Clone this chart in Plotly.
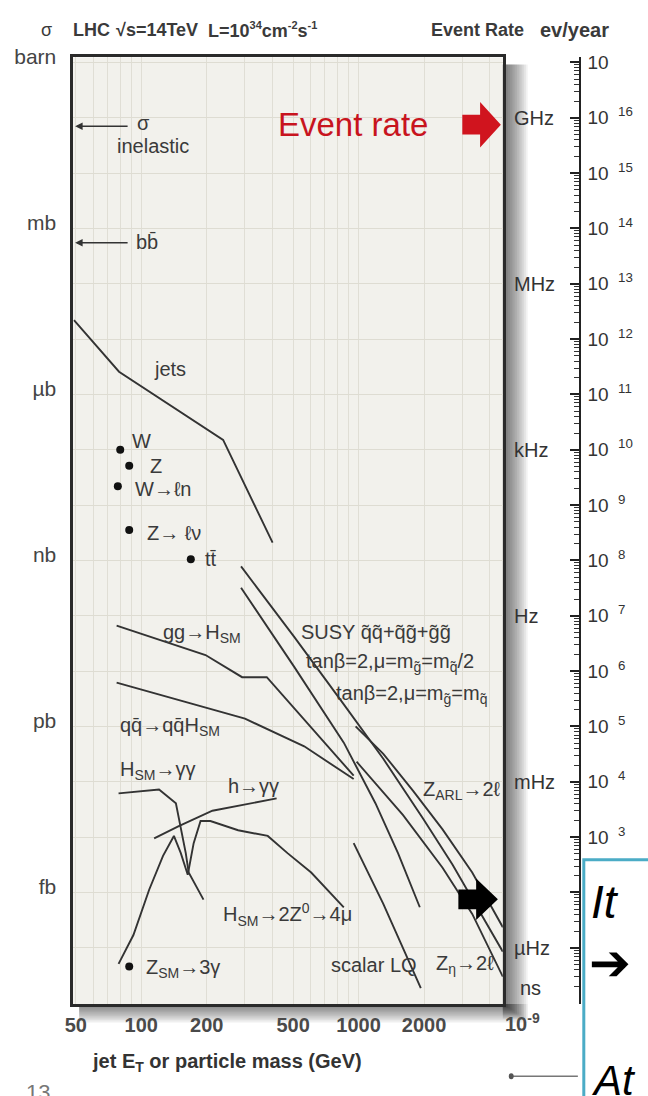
import math
import plotly.graph_objects as go

W, H = 648, 1096

# ---------------- data (mass in GeV, cross section in barn) ----------------
jets_m = [49, 79, 238, 402]
jets_sigma = [2.19e-5, 2.57e-6, 1.51e-7, 2.09e-9]

gg_h_m = [77, 197.5, 291, 378, 949]
gg_h_sigma = [6.61e-11, 1.95e-11, 7.76e-12, 7.76e-12, 1.29e-13]

qq_h_m = [77, 197.5, 300, 562, 949]
qq_h_sigma = [6.17e-12, 2.19e-12, 1.38e-12, 4.37e-13, 1.12e-13]

h_sm_gg_m = [78.6, 120.7, 144.3, 160.2, 165.2, 181.6, 193.3]
h_sm_gg_sigma = [6.17e-14, 7.24e-14, 4.07e-14, 5.13e-15, 2.29e-15, 1.12e-15, 7.41e-16]

h_gg_m = [114.6, 148.8, 212.5, 419.5]
h_gg_sigma = [9.5e-15, 1.58e-14, 3.0e-14, 5.0e-14]

h_4mu_m = [78.6, 92.0, 108.7, 125.9, 141.3, 152.0, 163.6, 174.2, 187.4, 208.0,
           279.0, 381.9, 470.8, 605.1, 854.7]
h_4mu_sigma = [5.13e-17, 1.70e-16, 1.12e-15, 4.57e-15, 1.05e-14, 5.13e-15, 2.09e-15,
               7.76e-15, 1.95e-14, 1.95e-14, 1.33e-14, 1.05e-14, 5.13e-15, 2.29e-15, 5.37e-16]

susy_a_m = [287.8, 506.4, 854.7, 1299, 1975, 2703, 3512, 4609]
susy_a_sigma = [7.8e-10, 4.1e-11, 2.5e-12, 2.6e-13, 2.2e-14, 3.2e-15, 5.4e-16, 8.5e-17]

susy_b_m = [287.8, 506.4, 854.7, 1195, 1520, 1913]
susy_b_sigma = [3.2e-10, 1.18e-11, 5.1e-13, 4.1e-14, 5.1e-15, 5.4e-16]

z_arl_m = [969, 1299, 1778, 2434, 3333, 4609]
z_arl_sigma = [1.0e-12, 3.2e-13, 6.9e-14, 1.38e-14, 2.3e-15, 2.35e-16]

z_eta_m = [979, 1602, 2434, 3333, 4609]
z_eta_sigma = [2.3e-13, 2.5e-14, 2.8e-15, 4.1e-16, 3.0e-17]

lq_m = [949, 1299, 1933]
lq_sigma = [7.8e-15, 6.2e-16, 1.86e-17]

point_names = ["W", "Z", "W→ℓn", "Z→ℓℓ", "tt", "Z_SM→3γ"]
point_m = [80, 88, 78, 88, 169, 88]
point_sigma = [1.0e-7, 5.13e-8, 2.19e-8, 3.55e-9, 1.05e-9, 4.57e-17]

sigma_inel = 0.07
sigma_bb = 5.5e-4

x_ticks = [50, 100, 200, 500, 1000, 2000]
x_ticktext = ["50", "100", "200", "500", "1000", "2000"]
y_ticks = [1, 1e-3, 1e-6, 1e-9, 1e-12, 1e-15]
y_ticktext = ["barn", "mb", "µb", "nb", "pb", "fb"]
rate_exponents = list(range(0, 18))
hz_labels = ["GHz", "MHz", "kHz", "Hz", "mHz", "µHz"]
hz_sigma = [1e-1, 1e-4, 1e-7, 1e-10, 1e-13, 1e-16]
ev_per_year_per_barn = 1e17

# ---------------- geometry ----------------
def px(x, y):
    return x / W, 1 - y / H

X0, X1 = 66, 501
Y0, Y1 = 45, 1003
xr = [math.log10(48.6), math.log10(4609)]
yr = [-17.018, 0.0893]

LINE = "#333333"
TXT = "#3a3a3a"
FONT = "Liberation Sans, Arial, Helvetica, sans-serif"

fig = go.Figure()

curves = [
    (jets_m, jets_sigma), (gg_h_m, gg_h_sigma), (qq_h_m, qq_h_sigma),
    (h_sm_gg_m, h_sm_gg_sigma), (h_gg_m, h_gg_sigma), (h_4mu_m, h_4mu_sigma),
    (susy_a_m, susy_a_sigma), (susy_b_m, susy_b_sigma), (z_arl_m, z_arl_sigma),
    (z_eta_m, z_eta_sigma), (lq_m, lq_sigma),
]
for m, s in curves:
    fig.add_trace(go.Scatter(x=m, y=s, mode="lines", line=dict(color=LINE, width=1.9),
                             hoverinfo="skip", showlegend=False, cliponaxis=True))

fig.add_trace(go.Scatter(x=point_m, y=point_sigma, mode="markers",
                         marker=dict(color="#111", size=8), showlegend=False,
                         hoverinfo="skip"))

# helper trace so the event-rate axis is drawn
fig.add_trace(go.Scatter(x=[100], y=[sigma_inel * ev_per_year_per_barn], yaxis="y2",
                         mode="markers", marker=dict(opacity=0), showlegend=False,
                         hoverinfo="skip"))

grid_x = [k * 10 ** n for n in (1, 2, 3) for k in range(1, 10) if 48 < k * 10 ** n < 4700]

fig.update_layout(
    width=W, height=H, margin=dict(l=0, r=0, t=0, b=0),
    paper_bgcolor="white", plot_bgcolor="#f2f1ec",
    font=dict(family=FONT, color=TXT),
    xaxis=dict(type="log", range=xr, domain=[X0 / W, X1 / W], anchor="y",
               showline=True, mirror=True, linecolor="#2a2a2a", linewidth=2.5,
               ticks="", tickvals=x_ticks, ticktext=x_ticktext,
               tickfont=dict(size=20, color="#4a4a4a", family=FONT, weight="bold"),
               showgrid=False, zeroline=False, ticklabelstandoff=1,
               minor=dict(tickvals=grid_x, showgrid=True, gridcolor="#e0ded5", gridwidth=1)),
    yaxis=dict(type="log", range=yr, domain=[1 - Y1 / H, 1 - Y0 / H], anchor="x",
               showline=True, mirror=True, linecolor="#2a2a2a", linewidth=2.5,
               ticks="", tickvals=y_ticks, ticktext=y_ticktext,
               tickfont=dict(size=21, color="#444", family=FONT),
               showgrid=True, gridcolor="#dedcd2", zeroline=False, ticklabelstandoff=10,
               ticklabelshift=-6,
               minor=dict(tickvals=[10.0 ** -k for k in range(0, 18)], showgrid=True,
                          gridcolor="#dedcd2", gridwidth=1)),
    yaxis2=dict(type="log", overlaying="y", anchor="free", position=579 / W, side="right",
                range=[yr[0] + 17, yr[1] + 17], showline=True, linecolor="#222", linewidth=1.5,
                ticks="inside", ticklen=9, tickwidth=1.5, tickcolor="#222",
                tickvals=[10.0 ** k for k in rate_exponents],
                ticktext=["" if k < 3 else ("10" if k == 17 else f"10\u2002<sup>{k}</sup>")
                          for k in rate_exponents],
                tickfont=dict(size=19, color="#333", family=FONT),
                showgrid=False, zeroline=False, ticklabelstandoff=3,
                minor=dict(tickvals=[k * 10.0 ** n for n in range(0, 17) for k in range(2, 10)],
                           ticks="inside", ticklen=5, tickcolor="#333", tickwidth=1, showgrid=False)),
)

shapes = []
# drop shadow of the plot box
for i in range(14):
    w = 1.8 * (i + 1)
    a, b = px(X1, 52)
    c, d = px(X1 + w, Y1 + w * 0.6)
    shapes.append(dict(type="rect", xref="paper", yref="paper", x0=a, x1=c, y0=d, y1=b,
                       fillcolor="rgba(0,0,0,0.05)", line=dict(width=0), layer="below"))
    a, b = px(72, Y1)
    c, d = px(X1 + w, Y1 + w * 0.75)
    shapes.append(dict(type="rect", xref="paper", yref="paper", x0=a, x1=c, y0=d, y1=b,
                       fillcolor="rgba(0,0,0,0.045)", line=dict(width=0), layer="below"))

def path(pts):
    return "M " + " L ".join(f"{x / W:.5f},{1 - y / H:.5f}" for x, y in pts) + " Z"

shapes.append(dict(type="path", xref="paper", yref="paper",
                   path=path([(460, 103), (478, 103), (478, 90), (499, 113), (478, 136), (478, 123), (460, 123)]),
                   fillcolor="#d0141e", line=dict(width=0), layer="above"))
shapes.append(dict(type="path", xref="paper", yref="paper",
                   path=path([(456, 887), (474, 887), (474, 876), (496, 897), (474, 918), (474, 907), (456, 907)]),
                   fillcolor="#000", line=dict(width=0), layer="above"))
# slide text box
a, b = px(583, 857)
shapes.append(dict(type="rect", xref="paper", yref="paper", x0=a, x1=1.05, y0=-0.05, y1=b,
                   fillcolor="white", line=dict(color="#4bacc6", width=3), layer="above"))
# small pointer line bottom right
a, b = px(510, 1076)
c, d = px(577, 1076)
shapes.append(dict(type="line", xref="paper", yref="paper", x0=a, x1=c, y0=b, y1=d,
                   line=dict(color="#777", width=1.5), layer="above"))
a, b = px(507, 1073)
c, d = px(512, 1079)
shapes.append(dict(type="circle", xref="paper", yref="paper", x0=a, x1=c, y0=d, y1=b,
                   fillcolor="#555", line=dict(width=0), layer="above"))
fig.update_layout(shapes=shapes)

ann = []

def text(t, x, y, size=20, color=TXT, anchor="left", bold=False, italic=False, yanchor="middle"):
    a, b = px(x, y)
    f = dict(size=size, color=color, family=FONT)
    if bold:
        f["weight"] = "bold"
    if italic:
        f["style"] = "italic"
    ann.append(dict(text=t, x=a, y=b, xref="paper", yref="paper", xanchor=anchor,
                    yanchor=yanchor, showarrow=False, font=f))

SUP = "<sup><span style='font-size:11px'>{}</span></sup>"

# header
text("σ", 31, 17, size=18)
text("LHC", 64, 17, size=18, bold=True)
text("√s=14TeV", 107, 17, size=18, bold=True)
text("L=10" + SUP.format("34") + "cm" + SUP.format("-2") + "s" + SUP.format("-1"), 200, 17, size=18, bold=True)
text("Event Rate", 426, 17, size=18, bold=True)
text("ev/year", 537, 17, size=20, bold=True)

# arrows to the cross-section axis
for s in (sigma_inel, sigma_bb):
    ann.append(dict(x=X0 / W + 0.003, y=math.log10(s), xref="paper", yref="y", ax=54, ay=0,
                    text="", showarrow=True, arrowhead=2, arrowsize=1.0, arrowwidth=1.5,
                    arrowcolor="#333"))

text("σ", 129, 111)
text("inelastic", 108, 135)
text("bb\u0304", 128, 232)
text("jets", 146, 360)
text("W", 124, 433)
text("Z", 142, 458)
text("W→ℓn", 127, 482)
text("Z→ ℓν", 139, 526)
text("tt\u0304", 197, 553)
text("gg→H<sub>SM</sub>", 155, 628)
text("qq\u0304→qq\u0304H<sub>SM</sub>", 111, 722)
text("H<sub>SM</sub>→γγ", 111, 767)
text("h→γγ", 221, 782)
text("H<sub>SM</sub>→2Z<sup>0</sup>→4μ", 216, 912)
text("Z<sub>SM</sub>→3γ", 138, 967)
text("scalar LQ", 325, 963)
text("Z<sub>η</sub>→2ℓ", 431, 963)
text("Z<sub>ARL</sub>→2ℓ", 418, 787)
text("SUSY q\u0303q\u0303+q\u0303g\u0303+g\u0303g\u0303", 295, 626)
text("tanβ=2,μ=m<sub>g\u0303</sub>=m<sub>q\u0303</sub>/2", 300, 657)
text("tanβ=2,μ=m<sub>g\u0303</sub>=m<sub>q\u0303</sub>", 330, 690)

# event rate
text("Event rate", 271, 113, size=33, color="#c8141e")

# Hz labels on the rate side
for lab, s in zip(hz_labels, hz_sigma):
    ann.append(dict(text=lab, x=510 / W, y=math.log10(s), xref="paper", yref="y",
                    xanchor="left", yanchor="middle", showarrow=False,
                    font=dict(size=20, color="#333", family=FONT)))
text("ns", 516, 987, color="#333")
text("10<sup>-9</sup>", 501, 1022, size=20, color="#4a4a4a", bold=True)

# x axis title
text("jet E<sub>T</sub> or particle mass (GeV)", 222, 1062, size=20, color="#333", anchor="center", bold=True)

# slide bits
text("It", 588, 900, size=46, color="#000", italic=True)
text("➔", 586, 961, size=50, color="#000")
text("At", 588, 1080, size=42, color="#000", italic=True)
text("13", 16, 1092, size=22, color="#777")

fig.update_layout(annotations=ann)
fig.write_html("out.html")
